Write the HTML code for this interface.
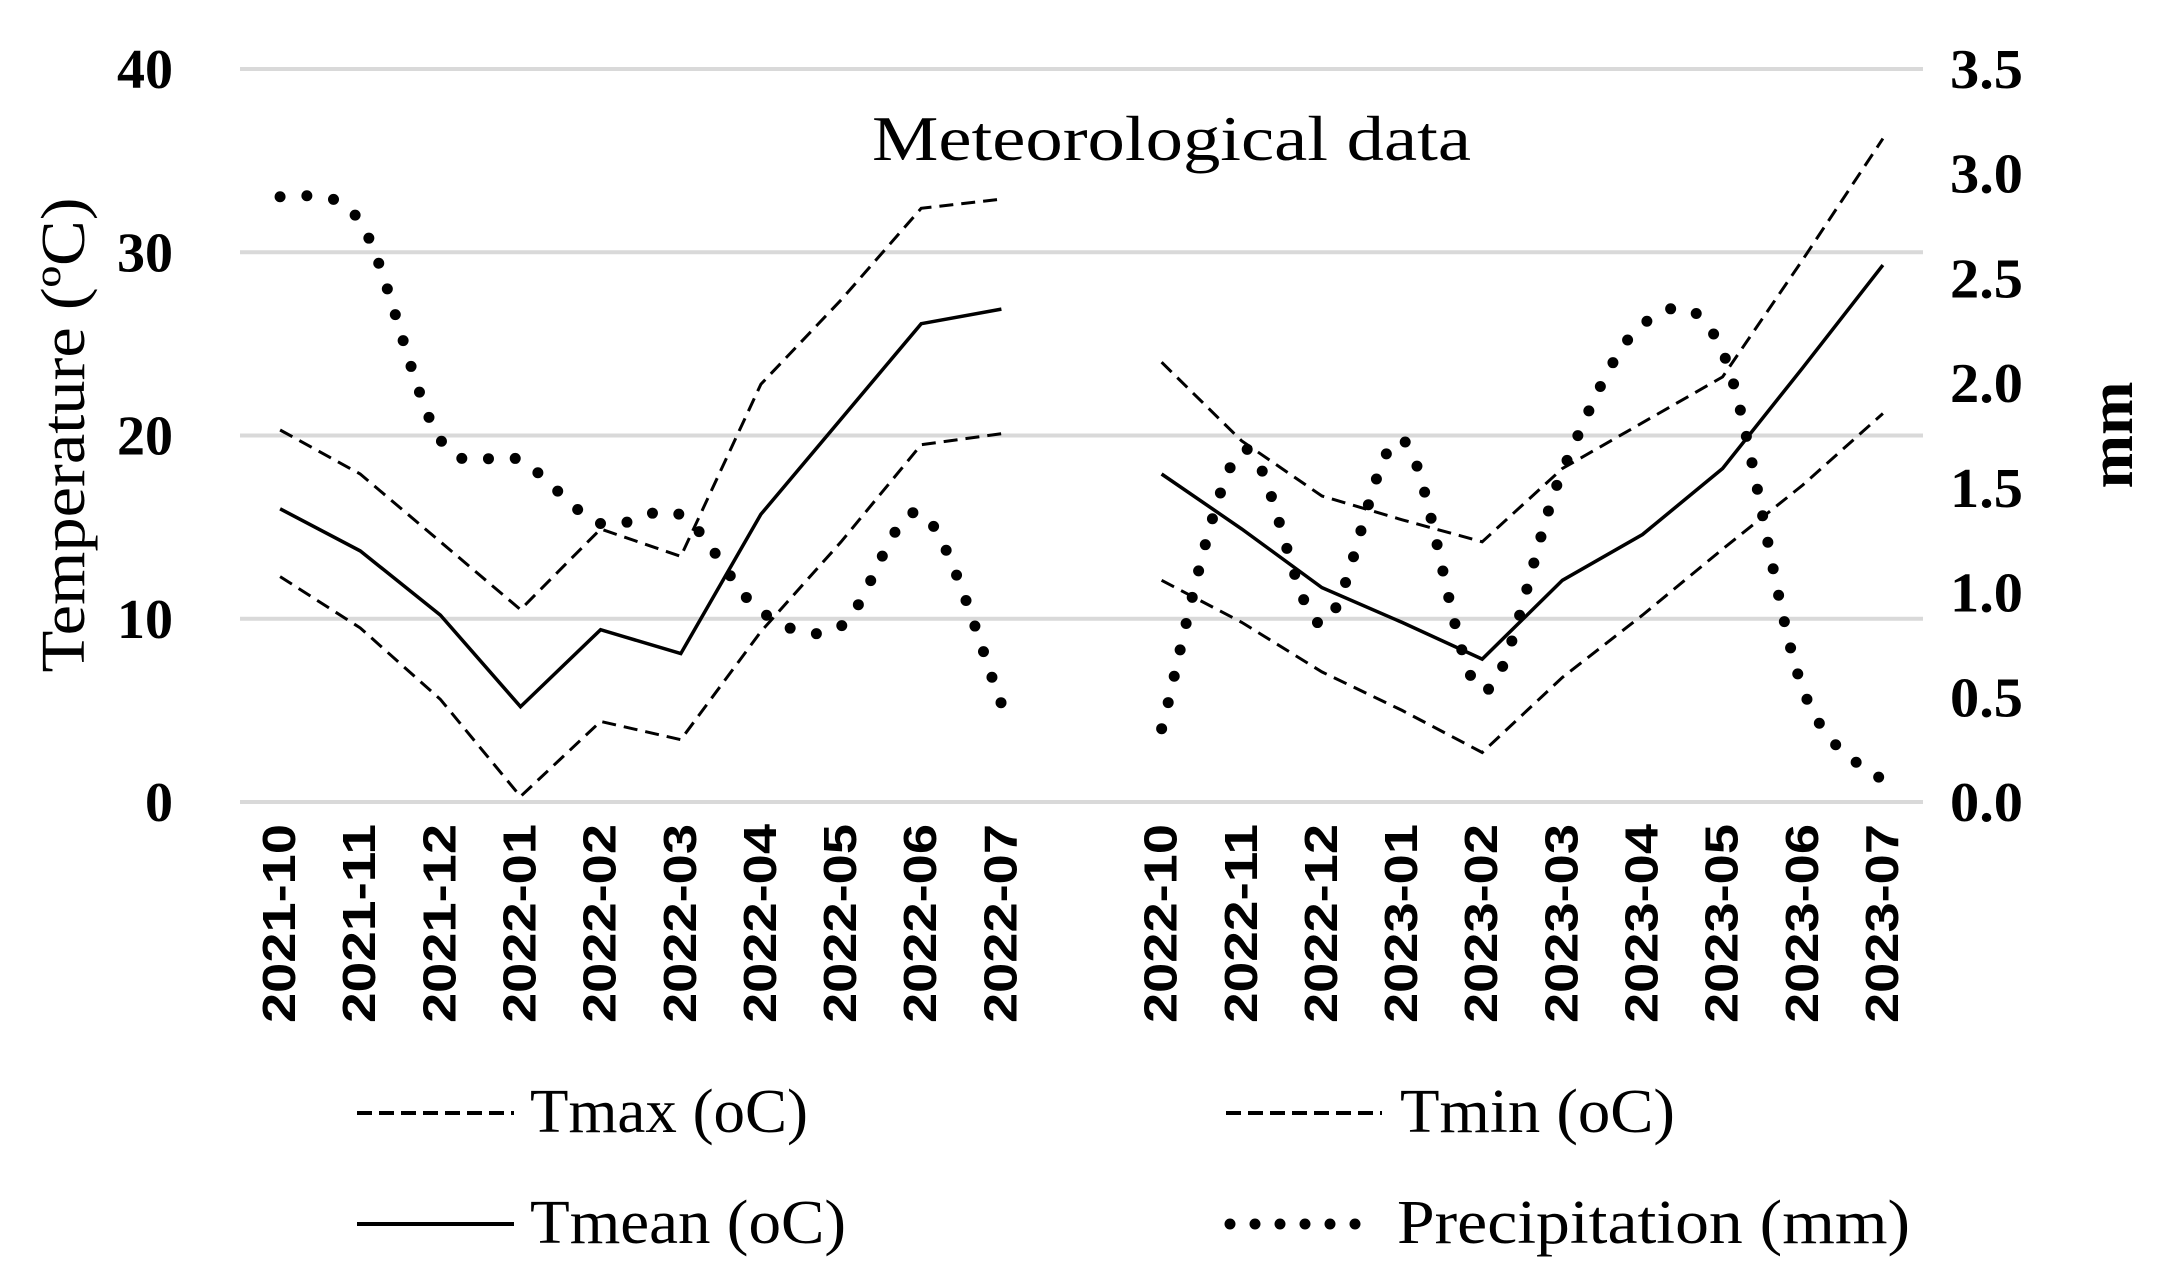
<!DOCTYPE html>
<html><head><meta charset="utf-8"><style>
html,body{margin:0;padding:0;background:#fff;}
svg{display:block;}
</style></head><body>
<svg id="chart" width="2168" height="1288" viewBox="0 0 2168 1288" xmlns="http://www.w3.org/2000/svg" font-family="'Liberation Serif', serif">
<g id="grid"></g>
<g id="ylabels"></g>
<g id="y2labels"></g>
<g id="xlabels"></g>
<g id="series"></g>
<text x="872" y="160" font-size="64" textLength="599" lengthAdjust="spacingAndGlyphs">Meteorological data</text>
<text transform="translate(84,435) rotate(-90)" text-anchor="middle" font-size="62" textLength="475" lengthAdjust="spacingAndGlyphs">Temperature (ºC)</text>
<text transform="translate(2132,435) rotate(-90)" text-anchor="middle" font-size="62" font-weight="bold" textLength="107" lengthAdjust="spacingAndGlyphs">mm</text>
<g>
 <g>
  <line x1="357" y1="1113" x2="514" y2="1113" stroke="#000" stroke-width="4" stroke-dasharray="15 7"/>
  <text x="530" y="1132" font-size="62" textLength="278" lengthAdjust="spacingAndGlyphs">Tmax (oC)</text>
 </g>
 <g>
  <line x1="1226" y1="1113" x2="1382" y2="1113" stroke="#000" stroke-width="4" stroke-dasharray="15 7"/>
  <text x="1400" y="1132" font-size="62" textLength="275" lengthAdjust="spacingAndGlyphs">Tmin (oC)</text>
 </g>
 <g>
  <line x1="357" y1="1224" x2="514" y2="1224" stroke="#000" stroke-width="4"/>
  <text x="530" y="1243" font-size="62" textLength="316" lengthAdjust="spacingAndGlyphs">Tmean (oC)</text>
 </g>
 <g>
  <line x1="1230" y1="1224" x2="1380" y2="1224" stroke="#000" stroke-width="11" stroke-linecap="round" stroke-dasharray="0 25"/>
  <text x="1397" y="1243" font-size="62" textLength="513" lengthAdjust="spacingAndGlyphs">Precipitation (mm)</text>
 </g>
</g>
</svg>
<script>
const categories = ["2021-10","2021-11","2021-12","2022-01","2022-02","2022-03","2022-04","2022-05","2022-06","2022-07","","2022-10","2022-11","2022-12","2023-01","2023-02","2023-03","2023-04","2023-05","2023-06","2023-07"];
const tmax  = [20.3,17.9,14.2,10.5,14.9,13.4,22.8,27.4,32.4,32.9,null,24.0,19.7,16.7,15.4,14.2,18.2,20.7,23.2,29.6,36.2];
const tmean = [16.0,13.7,10.2,5.2,9.4,8.1,15.7,20.9,26.1,26.9,null,17.9,14.9,11.7,9.8,7.8,12.1,14.6,18.2,23.7,29.3];
const tmin  = [12.3,9.5,5.6,0.3,4.4,3.4,9.3,14.2,19.5,20.1,null,12.1,9.8,7.1,5.0,2.7,6.8,10.2,13.8,17.3,21.2];
const precip = [2.89,2.77,1.73,1.63,1.33,1.37,0.91,0.84,1.38,0.47,null,0.35,1.68,0.85,1.73,0.53,1.58,2.28,2.15,0.54,0.10];
const leftTicks = [0,10,20,30,40];
const rightTicks = ["0.0","0.5","1.0","1.5","2.0","2.5","3.0","3.5"];

const NS="http://www.w3.org/2000/svg";
const X0=240, X1=1923, Y0=802, Ytop=69;
const step=(X1-X0)/categories.length;
function xs(i){return X0+step*(i+0.5);}
function ys(v){return Y0-(v/40)*(Y0-Ytop);}
function ys2(v){return Y0-(v/3.5)*(Y0-Ytop);}
function mk(tag,attrs,parent){const e=document.createElementNS(NS,tag);for(const k in attrs)e.setAttribute(k,attrs[k]);parent.appendChild(e);return e;}

const grid=document.getElementById('grid');
leftTicks.forEach(t=>{
  const l=mk('line',{x1:X0,x2:X1,y1:ys(t),y2:ys(t),stroke:'#d9d9d9','stroke-width':4},grid);
  
  
  const tx=mk('text',{x:173,y:ys(t)+19,'text-anchor':'end','font-size':56,'font-weight':'bold'},document.getElementById('ylabels'));
  tx.textContent=t;
  
  
});
rightTicks.forEach(t=>{
  const tx=mk('text',{x:1950,y:ys2(parseFloat(t))+19,'font-size':56,'font-weight':'bold',textLength:73,lengthAdjust:'spacingAndGlyphs'},document.getElementById('y2labels'));
  tx.textContent=t;
  
  
});
const xl=document.getElementById('xlabels');
categories.forEach((c,i)=>{
  if(!c)return;
  const tx=mk('text',{transform:`translate(${xs(i)+15},1023) rotate(-90)`,'font-family':"'Liberation Sans', sans-serif",'font-weight':'bold','font-size':46,textLength:199,lengthAdjust:'spacingAndGlyphs'},xl);
  tx.textContent=c;
  
  
});

function segments(arr){const segs=[];let cur=[];arr.forEach((v,i)=>{if(v===null){if(cur.length)segs.push(cur);cur=[];}else cur.push(i);});if(cur.length)segs.push(cur);return segs;}
const ser=document.getElementById('series');
function linePath(arr,yf){return segments(arr).map(s=>'M'+s.map(i=>xs(i).toFixed(1)+','+yf(arr[i]).toFixed(1)).join('L')).join(' ');}
function smoothPath(arr,yf){
  return segments(arr).map(s=>{
    const p=s.map(i=>[xs(i),yf(arr[i])]);
    let d='M'+p[0][0]+','+p[0][1];
    for(let k=0;k<p.length-1;k++){
      const a=p[Math.max(k-1,0)],b=p[k],c=p[k+1],e=p[Math.min(k+2,p.length-1)];
      const c1=[b[0]+(c[0]-a[0])/6,b[1]+(c[1]-a[1])/6];
      const c2=[c[0]-(e[0]-b[0])/6,c[1]-(e[1]-b[1])/6];
      d+=`C${c1[0].toFixed(1)},${c1[1].toFixed(1)} ${c2[0].toFixed(1)},${c2[1].toFixed(1)} ${c[0].toFixed(1)},${c[1].toFixed(1)}`;
    }
    return d;
  }).join(' ');
}
let p;
p=mk('path',{d:linePath(tmax,ys),fill:'none',stroke:'#000','stroke-width':3,'stroke-dasharray':'14 8'},ser);


p=mk('path',{d:linePath(tmin,ys),fill:'none',stroke:'#000','stroke-width':3,'stroke-dasharray':'14 8'},ser);


p=mk('path',{d:linePath(tmean,ys),fill:'none',stroke:'#000','stroke-width':3.5},ser);


p=mk('path',{d:smoothPath(precip,ys2),fill:'none',stroke:'#000','stroke-width':11,'stroke-linecap':'round','stroke-dasharray':'0 27'},ser);


</script>
</body></html>
